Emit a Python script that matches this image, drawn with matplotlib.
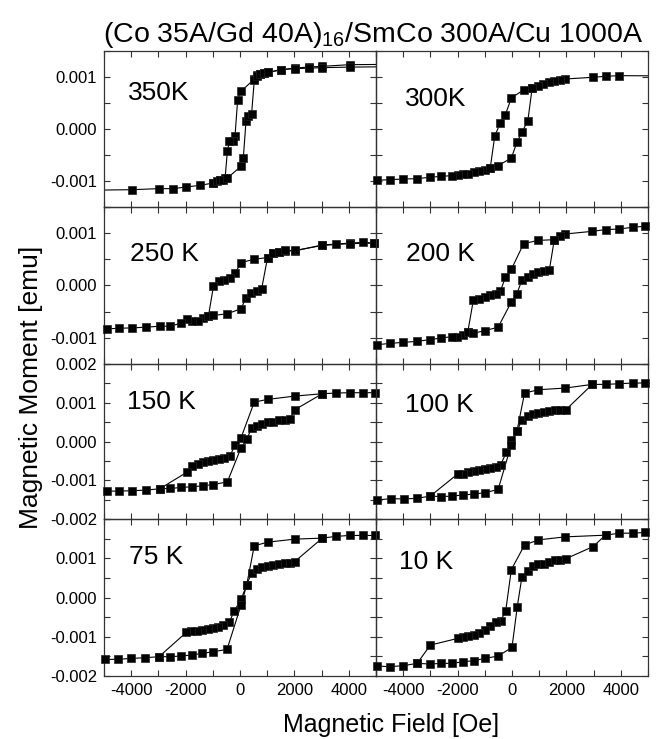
import matplotlib
matplotlib.use("Agg")
import matplotlib.pyplot as plt
from matplotlib.ticker import FixedLocator, FixedFormatter, MultipleLocator

plt.rcParams['font.family'] = ['Liberation Sans', 'DejaVu Sans']
plt.rcParams['axes.unicode_minus'] = False
plt.rcParams['mathtext.default'] = 'regular'

# ---------------- data (field in Oe, moment in 1e-3 emu) ----------------
temps = ['350K', '300K', '250 K', '200 K', '150 K', '100 K', '75 K', '10 K']

h_350_dn = [6000, 4026, 3026, 2538, 2013, 1525, 1037, 878, 732, 610, 525, 37, -85, -183, -268, -390, -464, -549,
            -732, -976, -1464, -1976, -2465, -2990, -3965, -6000]
m_350_dn = [1.245, 1.237, 1.205, 1.192, 1.173, 1.141, 1.09, 1.077, 1.058, 1.03, 0.96, 0.724, 0.564, -0.128, -0.237,
            -0.237, -0.429, -0.95, -0.985, -1.038, -1.083, -1.115, -1.147, -1.147, -1.167, -1.18]
h_350_up = [-976, -854, -732, -610, -464, 37, 122, 220, 305, 427, 525, 610, 732, 878, 1037, 1525, 2013, 2538, 3026,
            4026, 6000]
m_350_up = [-1.038, -1.006, -0.987, -0.974, -0.942, -0.718, -0.558, 0.147, 0.256, 0.295, 0.936, 1.026, 1.058, 1.077,
            1.09, 1.141, 1.16, 1.17, 1.18, 1.19, 1.20]

h_300_dn = [6000, 3949, 3438, 2977, 1956, 1762, 1555, 1349, 1154, 948, 741, 437, -24, -243, -425, -632, -802, -996,
            -1203, -1409, -1604, -1786, -1993, -2211, -2600, -3025, -3511, -3997, -4496, -4981]
m_300_dn = [1.02, 1.026, 1.013, 0.994, 0.962, 0.949, 0.929, 0.897, 0.865, 0.833, 0.788, 0.756, 0.596, 0.276, 0.115,
            -0.128, -0.756, -0.782, -0.808, -0.833, -0.859, -0.872, -0.885, -0.897, -0.910, -0.929, -0.955, -0.962,
            -0.974, -0.987]
h_300_up = [-802, -510, -24, 182, 365, 583, 741]
m_300_up = [-0.756, -0.705, -0.558, -0.256, -0.064, 0.160, 0.788]

h_250_dn = [4941, 4514, 4026, 3514, 3026, 2013, 1647, 1440, 1220, 1013, 525, 37, -183, -366, -573, -769, -976, -1159,
            -1366, -1562, -1769, -1952, -2172, -2562, -2952, -3465, -3965, -4453, -4904, -6000]
m_250_dn = [0.81, 0.823, 0.81, 0.791, 0.775, 0.66, 0.665, 0.637, 0.617, 0.534, 0.502, 0.437, 0.232, 0.148, 0.103,
            0.084, -0.013, -0.58, -0.624, -0.669, -0.682, -0.637, -0.720, -0.778, -0.778, -0.797, -0.810, -0.817,
            -0.830, -0.84]
h_250_up = [-1159, -976, -464, 37, 220, 403, 610, 793, 1013, 1220, 1440, 1647, 2013, 3026, 4026, 4941]
m_250_up = [-0.58, -0.572, -0.540, -0.444, -0.238, -0.135, -0.103, -0.071, 0.534, 0.617, 0.637, 0.669, 0.669, 0.765,
            0.80, 0.81]

h_200_dn = [4896, 4435, 3949, 3438, 2952, 1956, 1774, 1555, 948, 425, -24, -243, -425, -595, -802, -996, -1203, -1422,
            -1628, -1810, -2029, -2211, -2600, -3025, -3511, -3997, -4496, -4945]
m_200_dn = [1.132, 1.113, 1.08, 1.068, 1.035, 0.984, 0.952, 0.875, 0.862, 0.797, 0.309, 0.154, -0.103, -0.154, -0.186,
            -0.219, -0.251, -0.283, -0.894, -0.939, -0.990, -0.977, -1.003, -1.035, -1.068, -1.087, -1.106, -1.132]
h_200_up = [-1628, -1422, -996, -510, -24, 182, 365, 583, 790, 972, 1191, 1373, 1555]
m_200_up = [-0.894, -0.913, -0.862, -0.797, -0.315, -0.154, 0.103, 0.154, 0.219, 0.264, 0.283, 0.296, 0.875]

h_150_dn = [4978, 4514, 4026, 3514, 3026, 2013, 1013, 525, 37, -183, -366, -573, -769, -976, -1159, -1366, -1562,
            -1769, -1952, -2952, -3465, -3965, -4453, -4904, -6000]
m_150_dn = [1.259, 1.259, 1.259, 1.25, 1.233, 1.172, 1.086, 1.017, 0.095, -0.078, -0.379, -0.422, -0.448, -0.474,
            -0.509, -0.534, -0.578, -0.621, -0.793, -1.22, -1.254, -1.271, -1.280, -1.280, -1.29]
h_150_up = [-2952, -2562, -2172, -1769, -1366, -976, -464, 37, 244, 427, 610, 793, 1013, 1220, 1440, 1647, 1830, 2013,
            3026]
m_150_up = [-1.22, -1.212, -1.186, -1.169, -1.144, -1.110, -1.042, -0.164, 0.052, 0.345, 0.397, 0.457, 0.491, 0.509,
            0.543, 0.543, 0.569, 0.819, 1.233]

h_100_dn = [4896, 4435, 3949, 3438, 2952, 1956, 972, 462, 182, -24, -206, -413, -595, -802, -996, -1203, -1409, -1604,
            -1810, -1993, -3001, -3487, -3973, -4459, -4945]
m_100_dn = [1.509, 1.509, 1.491, 1.474, 1.474, 1.379, 1.336, 1.25, 0.267, 0.026, -0.276, -0.595, -0.647, -0.681,
            -0.707, -0.733, -0.75, -0.776, -0.836, -0.836, -1.407, -1.466, -1.483, -1.475, -1.508]
h_100_up = [-3001, -2600, -2211, -1786, -1409, -996, -510, -24, 182, 365, 583, 790, 972, 1191, 1373, 1580, 1774, 1980,
            2952]
m_100_up = [-1.407, -1.424, -1.407, -1.381, -1.356, -1.322, -1.237, -0.08, 0.267, 0.56, 0.647, 0.698, 0.733, 0.759,
            0.784, 0.802, 0.802, 0.819, 1.474]

h_75_dn = [4978, 4514, 4026, 3514, 3026, 2013, 1013, 525, 244, 37, -207, -390, -610, -793, -1000, -1183, -1391, -1586,
           -1793, -1976, -2977, -3477, -3989, -4502, -4965, -6000]
m_75_dn = [1.581, 1.581, 1.581, 1.556, 1.513, 1.487, 1.41, 1.316, 0.316, -0.05, -0.339, -0.619, -0.703, -0.746,
           -0.788, -0.814, -0.83, -0.847, -0.847, -0.89, -1.508, -1.534, -1.551, -1.576, -1.576, -1.59]
h_75_up = [-2977, -2586, -2184, -1781, -1391, -976, -476, 37, 244, 427, 610, 793, 1013, 1220, 1440, 1647, 1830, 2013,
           3026]
m_75_up = [-1.508, -1.508, -1.492, -1.466, -1.424, -1.381, -1.322, -0.195, 0.316, 0.632, 0.718, 0.769, 0.803, 0.829,
           0.846, 0.872, 0.889, 0.915, 1.513]

h_10_dn = [4896, 4435, 3949, 3438, 1956, 972, 462, -24, -231, -413, -595, -802, -996, -1203, -1409, -1604, -1810,
           -1993, -3001, -3487, -3997, -4496, -4945]
m_10_dn = [1.657, 1.639, 1.639, 1.588, 1.545, 1.468, 1.339, 0.712, -0.339, -0.593, -0.636, -0.729, -0.831, -0.915,
           -0.958, -0.975, -1.0, -1.042, -1.212, -1.678, -1.737, -1.763, -1.746]
h_10_up = [-3487, -3001, -2600, -2211, -1786, -1409, -996, -510, 0, 194, 365, 583, 790, 972, 1191, 1373, 1580, 1774,
           1980, 2977, 3438]
m_10_up = [-1.678, -1.695, -1.678, -1.678, -1.636, -1.61, -1.551, -1.492, -1.271, -0.232, 0.524, 0.67, 0.798, 0.841,
           0.858, 0.901, 0.944, 0.953, 0.987, 1.296, 1.588]

# tick labels
xtick_vals = [-4000, -2000, 0, 2000, 4000]
xtick_labels = ['-4000', '-2000', '0', '2000', '4000']
ytick_vals_small = [-1, 0, 1]
ytick_labels_small = ['-0.001', '0.000', '0.001']
ytick_vals_big = [-2, -1, 0, 1, 2]
ytick_labels_row3 = ['-0.002', '-0.001', '0.000', '0.001', '0.002']
ytick_labels_row4 = ['-0.002', '-0.001', '0.000', '0.001', '']

title_text = '(Co 35A/Gd 40A)$_{16}$/SmCo 300A/Cu 1000A'
xlabel_text = 'Magnetic Field [Oe]'
ylabel_text = 'Magnetic Moment [emu]'

panels = [
    (h_350_dn, m_350_dn, h_350_up, m_350_up),
    (h_300_dn, m_300_dn, h_300_up, m_300_up),
    (h_250_dn, m_250_dn, h_250_up, m_250_up),
    (h_200_dn, m_200_dn, h_200_up, m_200_up),
    (h_150_dn, m_150_dn, h_150_up, m_150_up),
    (h_100_dn, m_100_dn, h_100_up, m_100_up),
    (h_75_dn, m_75_dn, h_75_up, m_75_up),
    (h_10_dn, m_10_dn, h_10_up, m_10_up),
]
# label positions (axes fraction)
label_pos = [(0.088, 0.73), (0.107, 0.69), (0.096, 0.70), (0.11, 0.70),
             (0.085, 0.755), (0.107, 0.735), (0.092, 0.758), (0.085, 0.726)]

XMIN, XMAX = -5000, 5000

# ---------------- layout ----------------
W, H = 656, 739
fig = plt.figure(figsize=(W / 100, H / 100), dpi=100)
x_edges = [104, 376, 648]
y_edges = [51, 207, 364, 519, 676]

line_style = dict(color='black', lw=0.8)
mark_style = dict(ls='none', marker='s', ms=5.2, mfc='black', mec='#222222', mew=0.5, clip_on=False, zorder=3)

for idx, (hd, md, hu, mu) in enumerate(panels):
    r, c = divmod(idx, 2)
    left = x_edges[c] / W
    width = (x_edges[c + 1] - x_edges[c]) / W
    bottom = 1 - y_edges[r + 1] / H
    height = (y_edges[r + 1] - y_edges[r]) / H
    ax = fig.add_axes([left, bottom, width, height])
    ax.patch.set_alpha(0)
    for hh, mm in ((hd, md), (hu, mu)):
        ax.plot(hh, mm, **line_style)
        inside = [(h, m) for h, m in zip(hh, mm) if XMIN <= h <= XMAX]
        ax.plot([p[0] for p in inside], [p[1] for p in inside], **mark_style)
    ax.set_xlim(XMIN, XMAX)
    if r < 2:
        ax.set_ylim(-1.5, 1.5)
        ax.yaxis.set_major_locator(FixedLocator(ytick_vals_small))
        ax.yaxis.set_major_formatter(FixedFormatter(ytick_labels_small))
    else:
        ax.set_ylim(-2, 2)
        ax.yaxis.set_major_locator(FixedLocator(ytick_vals_big))
        ax.yaxis.set_major_formatter(FixedFormatter(ytick_labels_row3 if r == 2 else ytick_labels_row4))
    ax.yaxis.set_minor_locator(MultipleLocator(0.5))
    ax.xaxis.set_major_locator(FixedLocator(xtick_vals))
    ax.xaxis.set_major_formatter(FixedFormatter(xtick_labels))
    ax.xaxis.set_minor_locator(MultipleLocator(1000))
    ax.tick_params(which='both', direction='in', top=True, right=True, length=4, width=0.8,
                   color='#333333', labelsize=12)
    ax.tick_params(axis='y', pad=5)
    ax.tick_params(axis='x', pad=5)
    if c == 1:
        ax.tick_params(labelleft=False)
    if r < 3:
        ax.tick_params(labelbottom=False)
    for s in ax.spines.values():
        s.set_linewidth(0.9)
        s.set_color('#333333')
    ax.text(label_pos[idx][0], label_pos[idx][1], temps[idx], transform=ax.transAxes,
            ha='left', va='center', fontsize=19)

fig.text(373 / W, 1 - 42 / H, title_text, ha='center', va='baseline', fontsize=20.5)
fig.text(391 / W, 1 - 732 / H, xlabel_text, ha='center', va='baseline', fontsize=18)
fig.text(43 / W, 1 - 387 / H, ylabel_text, ha='right', va='center', fontsize=19, rotation=90)

fig.savefig('out.png', dpi=100)
